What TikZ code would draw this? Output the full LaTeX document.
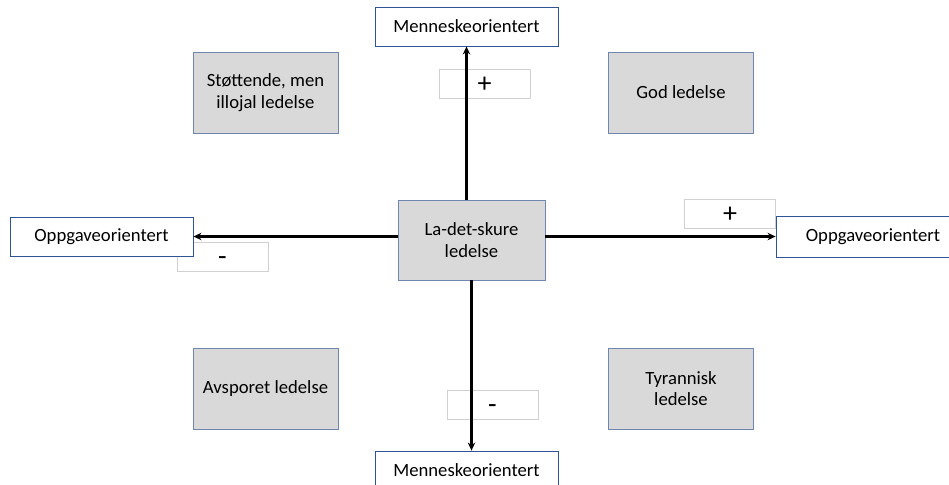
\documentclass[tikz,border=0pt]{standalone}
\usepackage{fontspec}
\setmainfont{Carlito}
\usetikzlibrary{arrows.meta}
\definecolor{fillgray}{HTML}{D9D9D9}
\definecolor{edgeblue}{HTML}{2F5597}
\definecolor{boxblue}{HTML}{6F87B0}
\definecolor{signgray}{HTML}{D0D0D0}
\begin{document}
\begin{tikzpicture}[x=0.75pt,y=-0.75pt,
  axisbox/.style={draw=edgeblue,fill=white,line width=0.6pt,minimum width=137.25pt,minimum height=29.25pt,inner sep=0pt,font=\fontsize{14}{16}\selectfont},
  quadbox/.style={draw=boxblue,fill=fillgray,line width=0.6pt,minimum width=108.75pt,minimum height=60.75pt,inner sep=0pt,align=center,font=\fontsize{14}{16}\selectfont},
  signbox/.style={draw=signgray,fill=white,line width=0.5pt,minimum width=68.25pt,minimum height=21.75pt,inner sep=0pt,text height=14pt,text depth=1.2pt,font=\fontsize{21}{21}\selectfont},
  axisarrow/.style={line width=1.6pt,-{Stealth[length=6pt,width=5.5pt]}}]
\clip (0,0) rectangle (949,485);
\fill[white] (0,0) rectangle (949,485);
\node[signbox] (plusTop) at (484.5,83.5) {+};
\node[signbox] (minusLeft) at (222.5,256.5) {-};
\node[signbox] (plusRight) at (730,213.5) {+};
\node[signbox] (minusBot) at (492.5,405) {-};
\node[axisbox] (menTop) at (466.5,26.5) {Menneskeorientert};
\node[axisbox] (menBot) at (466.5,470.5) {Menneskeorientert};
\node[axisbox] (oppLeft) at (101.5,236.5) {Oppgaveorientert};
\node[axisbox,minimum width=145.5pt,minimum height=30.75pt] (oppRight) at (873,236.5) {Oppgaveorientert};
\node[quadbox,minimum width=110.25pt,minimum height=60pt] (ladet) at (471.5,240) {La-det-skure\\ledelse};
\node[quadbox] (stott) at (265.5,92.5) {Støttende, men\\illojal ledelse};
\node[quadbox] (god) at (681,92.5) {God ledelse};
\node[quadbox] (avspor) at (265.5,388.5) {Avsporet ledelse};
\node[quadbox] (tyrann) at (681,388.5) {Tyrannisk\\ledelse};
\draw[axisarrow] (ladet.north -| menTop) -- (menTop.south);
\draw[axisarrow] (ladet.south) -- (ladet.south |- menBot.north);
\draw[axisarrow] (ladet.west |- oppLeft) -- (oppLeft.east);
\draw[axisarrow] (ladet.east |- oppRight) -- (oppRight.west);
\end{tikzpicture}
\end{document}
